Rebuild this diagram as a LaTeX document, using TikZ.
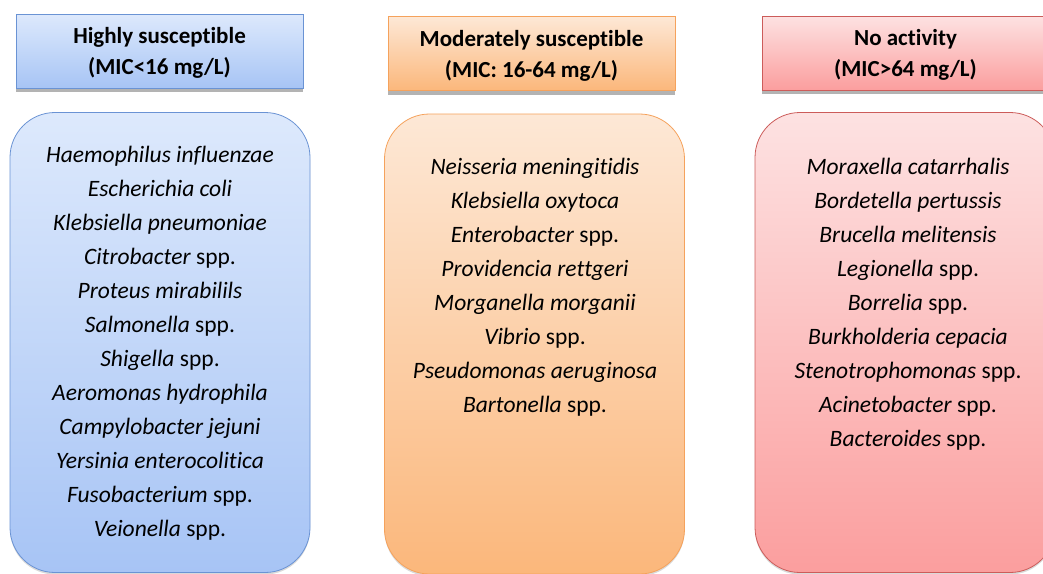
\documentclass[tikz,border=0pt]{standalone}
\usepackage{fontspec}
\setmainfont{Carlito}[Ligatures=NoCommon]
\usetikzlibrary{shadows}

\definecolor{bluetop}{HTML}{DDE9FC}
\definecolor{bluebot}{HTML}{A7C4F5}
\definecolor{blueline}{HTML}{6A93D4}
\definecolor{orangetop}{HTML}{FDE8D6}
\definecolor{orangebot}{HTML}{FBB77B}
\definecolor{orangeline}{HTML}{F5A25C}
\definecolor{redtop}{HTML}{FDE2E2}
\definecolor{redbot}{HTML}{FB9E9E}
\definecolor{redline}{HTML}{CC5C5A}

\tikzset{
  head/.style={draw, line width=0.8pt, minimum width=287pt, minimum height=74pt,
    align=center, text depth=0pt, font=\fontsize{23}{31}\selectfont\bfseries,
    drop shadow={shadow xshift=0pt, shadow yshift=-4pt, xscale=.92, opacity=.6}},
  listbox/.style={draw, line width=0.8pt, rounded corners=45pt, minimum width=300pt,
    minimum height=460pt, drop shadow={shadow xshift=0pt, shadow yshift=-2pt, opacity=.3}},
  item/.style={font=\fontsize{23.5}{28}\selectfont, text height=17pt, text depth=5pt}
}

\begin{document}
\begin{tikzpicture}[x=1pt,y=-1pt]
  \useasboundingbox (0,0) rectangle (1043,573);
  % headers
  \node[head, top color=bluetop, bottom color=bluebot, draw=blueline] (hhigh) at (159.5,51) {Highly susceptible\\(MIC<16 mg/L)};
  \node[head, top color=orangetop, bottom color=orangebot, draw=orangeline] (hmod) at (531.5,53.5) {Moderately susceptible\\(MIC: 16-64 mg/L)};
  \node[head, top color=redtop, bottom color=redbot, draw=redline] (hno) at (905.5,53) {No activity\\(MIC>64 mg/L)};
  % list boxes
  \node[listbox, top color=bluetop, bottom color=bluebot, draw=blueline] (lhigh) at (160,342.5) {};
  \node[listbox, top color=orangetop, bottom color=orangebot, draw=orangeline] (lmod) at (534.5,344) {};
  \node[listbox, top color=redtop, bottom color=redbot, draw=redline] (lno) at (905,342.5) {};
  % species
  \foreach \name [count=\i] in {\textit{Haemophilus influenzae}, \textit{Escherichia coli},
      \textit{Klebsiella pneumoniae}, \textit{Citrobacter} spp., \textit{Proteus mirabilils},
      \textit{Salmonella} spp., \textit{Shigella} spp., \textit{Aeromonas hydrophila},
      \textit{Campylobacter jejuni}, \textit{Yersinia enterocolitica},
      \textit{Fusobacterium} spp., \textit{Veionella} spp.}
    \node[item] (high\i) at (160,{156+34*(\i-1)}) {\name};
  \foreach \name [count=\i] in {\textit{Neisseria meningitidis}, \textit{Klebsiella oxytoca},
      \textit{Enterobacter} spp., \textit{Providencia rettgeri}, \textit{Morganella morganii},
      \textit{Vibrio} spp., \textit{Pseudomonas aeruginosa}, \textit{Bartonella} spp.}
    \node[item] (mod\i) at (535,{168+34*(\i-1)}) {\name};
  \foreach \name [count=\i] in {\textit{Moraxella catarrhalis}, \textit{Bordetella pertussis},
      \textit{Brucella melitensis}, \textit{Legionella} spp., \textit{Borrelia} spp.,
      \textit{Burkholderia cepacia}, \textit{Stenotrophomonas} spp.,
      \textit{Acinetobacter} spp., \textit{Bacteroides} spp.}
    \node[item] (no\i) at (908,{168+34*(\i-1)}) {\name};
\end{tikzpicture}
\end{document}
